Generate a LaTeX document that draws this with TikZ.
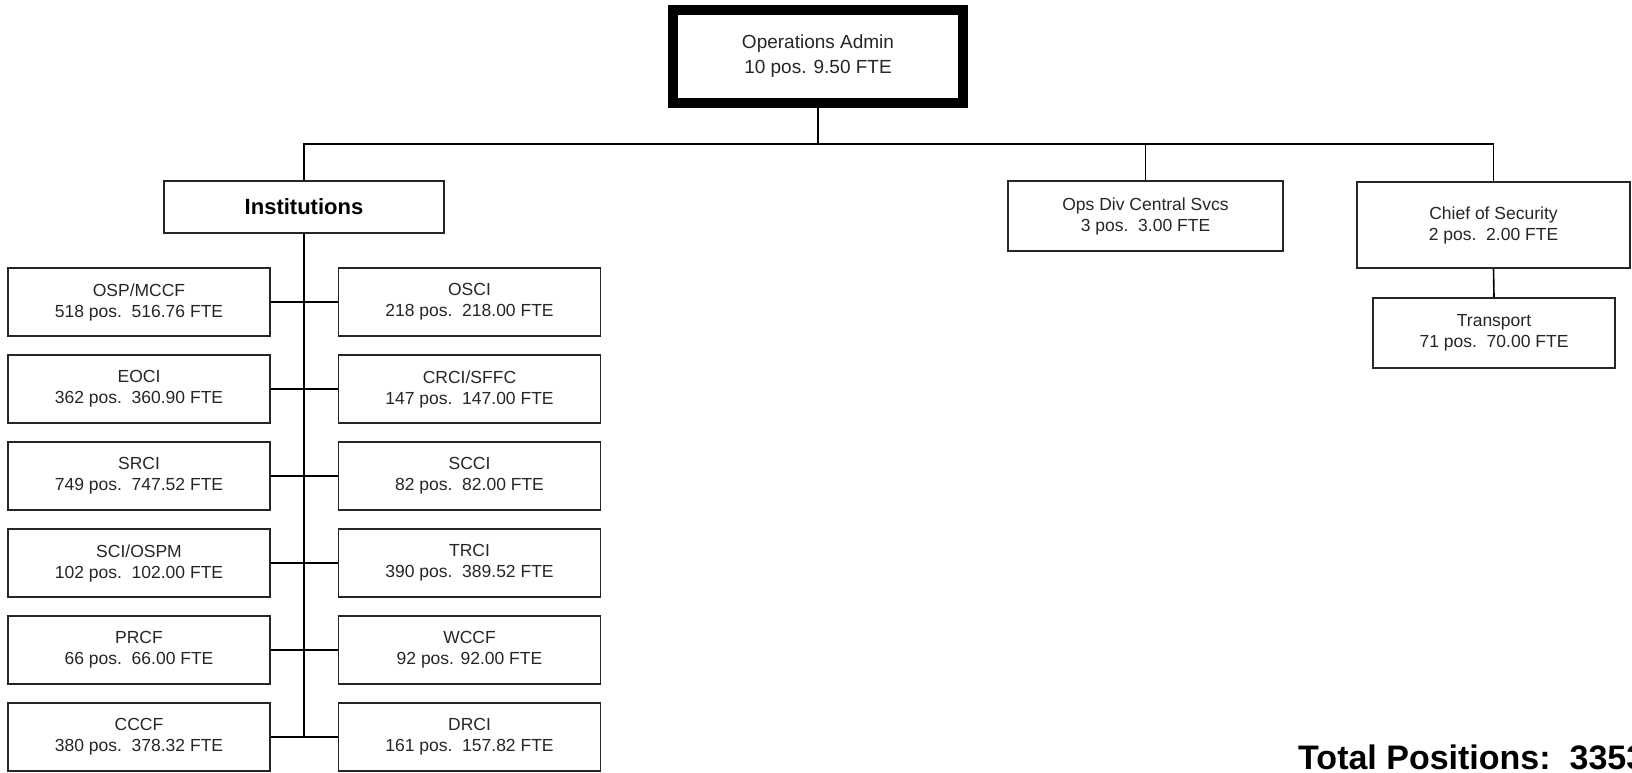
\documentclass[tikz,border=0pt]{standalone}
\usepackage{fontspec}
\setmainfont{Liberation Sans}
\begin{document}
\begin{tikzpicture}[x=1pt,y=-1pt,
        unit/.style={draw=black!85,line width=1.6pt,fill=white,align=center,inner sep=0pt,
            font=\fontsize{17.5}{21}\selectfont,text=black!85},
        inst/.style={unit,minimum width=262pt,minimum height=68pt},
        link/.style={line width=1.6pt,black}]
        \useasboundingbox (0,0) rectangle (1632,772);
        \node[unit,line width=10pt,draw=black,minimum width=290pt,minimum height=93pt,font=\fontsize{19}{25}\selectfont] (admin) at (818,56.5) {Operations Admin\\10 pos. 9.50 FTE};
        \node[unit,line width=2.4pt,minimum width=280pt,minimum height=52pt,font=\bfseries\fontsize{22}{26}\selectfont,text=black] (inst) at (304,207) {Institutions};
        \node[unit,minimum width=275pt,minimum height=70pt] (ops) at (1145.5,216) {Ops Div Central Svcs\\3 pos.~~3.00 FTE};
        \node[unit,minimum width=273pt,minimum height=86pt] (chief) at (1493.5,225) {Chief of Security\\2 pos.~~2.00 FTE};
        \node[unit,minimum width=242pt,minimum height=70pt] (transport) at (1494,333) {Transport\\71 pos.~~70.00 FTE};
        \node[inst] (osp) at (139,302) {OSP/MCCF\\518 pos.~~516.76 FTE};
        \node[inst] (eoci) at (139,389) {EOCI\\362 pos.~~360.90 FTE};
        \node[inst] (srci) at (139,476) {SRCI\\749 pos.~~747.52 FTE};
        \node[inst] (sci) at (139,563) {SCI/OSPM\\102 pos.~~102.00 FTE};
        \node[inst] (prcf) at (139,650) {PRCF\\66 pos.~~66.00 FTE};
        \node[inst] (cccf) at (139,737) {CCCF\\380 pos.~~378.32 FTE};
        \node[inst] (osci) at (469.5,302) {OSCI\\218 pos.~~218.00 FTE};
        \node[inst] (crci) at (469.5,389) {CRCI/SFFC\\147 pos.~~147.00 FTE};
        \node[inst] (scci) at (469.5,476) {SCCI\\82 pos.~~82.00 FTE};
        \node[inst] (trci) at (469.5,563) {TRCI\\390 pos.~~389.52 FTE};
        \node[inst] (wccf) at (469.5,650) {WCCF\\92 pos. 92.00 FTE};
        \node[inst] (drci) at (469.5,737) {DRCI\\161 pos.~~157.82 FTE};
        \node[anchor=base west,inner sep=0pt,font=\bfseries\fontsize{34}{40}\selectfont] (total) at (1298,769) {Total Positions:~~3353};
        \coordinate (bus) at (818,144);
        \draw[link] (admin.south)--(bus);
        \draw[link] (inst.north)--(inst.north |- bus)--(bus -| chief.north)--(chief.north);
        \draw[link] (ops.north)--(ops.north |- bus);
        \draw[link] (chief.south)--(transport.north);
        \draw[link] (inst.south)--(inst.south |- cccf.east);
        \draw[link] (osp.east)--(osci.west);
        \draw[link] (eoci.east)--(crci.west);
        \draw[link] (srci.east)--(scci.west);
        \draw[link] (sci.east)--(trci.west);
        \draw[link] (prcf.east)--(wccf.west);
        \draw[link] (cccf.east)--(drci.west);
    \end{tikzpicture}
\end{document}
